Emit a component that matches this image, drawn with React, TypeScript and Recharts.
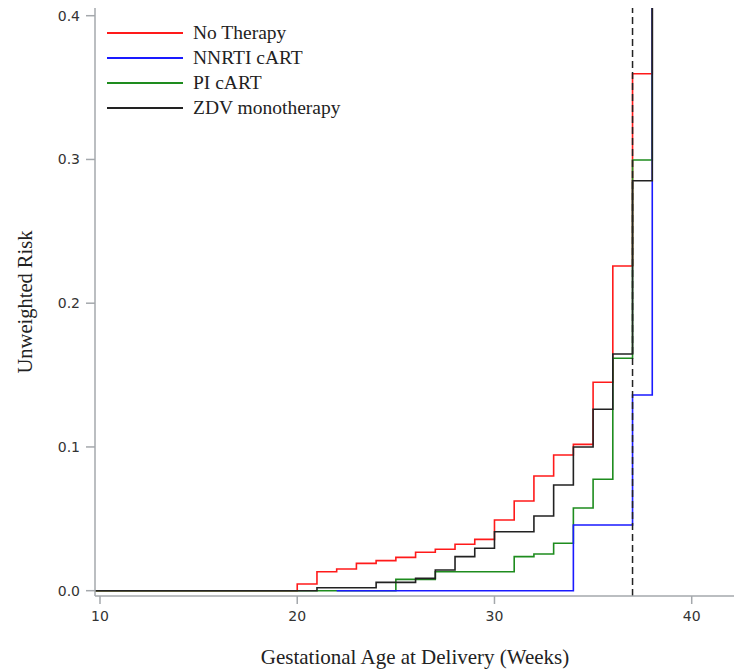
import React from 'react'
import {
  LineChart, Line, XAxis, YAxis, ReferenceLine, Label,
} from 'recharts'

// gestational week at which each step starts
const weeks = [9, 10, 11, 12, 13, 14, 15, 16, 17, 18, 19, 20, 21, 22, 23, 24, 25, 26, 27, 28, 29, 30, 31, 32, 33, 34, 35, 36, 37, 38]

const noTherapy = [0, 0, 0, 0, 0, 0, 0, 0, 0, 0, 0, 0.0047, 0.0132, 0.0151, 0.019, 0.0209, 0.0232, 0.0267, 0.0288, 0.0323, 0.0357, 0.0492, 0.0624, 0.0798, 0.0944, 0.1018, 0.145, 0.2259, 0.3596, 1]
const nnrti = [null, null, null, null, null, null, null, null, null, null, null, null, null, 0, 0, 0, 0, 0, 0, 0, 0, 0, 0, 0, 0, 0.0457, 0.0457, 0.0457, 0.1361, 1]
const piCart = [0, 0, 0, 0, 0, 0, 0, 0, 0, 0, 0, 0, 0, 0, 0, 0, 0.0079, 0.0079, 0.0132, 0.0132, 0.0132, 0.0132, 0.0237, 0.0255, 0.033, 0.0575, 0.0775, 0.1617, 0.2996, 1]
const zdv = [0, 0, 0, 0, 0, 0, 0, 0, 0, 0, 0, 0, 0.0021, 0.0021, 0.0021, 0.0058, 0.0058, 0.0086, 0.0144, 0.0237, 0.0295, 0.041, 0.041, 0.052, 0.0735, 0.1, 0.1262, 0.1647, 0.2852, 1]

const xTicks = [10, 20, 30, 40]
const yTicks = [0, 0.1, 0.2, 0.3, 0.4]
const cutoffWeek = 37

const legendItems = [
  { name: 'No Therapy', color: '#ff1a1a' },
  { name: 'NNRTI cART', color: '#1a1aff' },
  { name: 'PI cART', color: '#1e8c1e' },
  { name: 'ZDV monotherapy', color: '#222222' },
]

const data = weeks.map((w, i) => ({
  week: w,
  none: noTherapy[i],
  nnrti: nnrti[i],
  pi: piCart[i],
  zdv: zdv[i],
}))

const axisGray = '#a4a8ac'
const tickFont = { fontSize: 14, fill: '#333', fontFamily: 'DejaVu Sans' }
const titleFont = 'Liberation Serif'

export default function App() {
  return (
    <div style={{ position: 'absolute', left: 0, top: 0, width: 734, height: 670, overflow: 'hidden', background: '#fff' }}>
      <LineChart width={771} height={670} data={data} margin={{ top: 8, right: 0, bottom: 0, left: 0 }}>
        <XAxis
          dataKey="week"
          type="number"
          domain={[9.7465, 44.02]}
          ticks={xTicks}
          allowDataOverflow
          height={74}
          tick={tickFont}
          tickSize={8}
          tickMargin={7}
          stroke={axisGray}
          axisLine={{ stroke: axisGray, strokeWidth: 1.5 }}
          tickLine={{ stroke: axisGray, strokeWidth: 1.5 }}
        >
          <Label
            content={({ viewBox }: any) => (
              <text
                x={viewBox.x + 320}
                y={viewBox.y + 68}
                textAnchor="middle"
                fontFamily={titleFont}
                fontSize={21}
                fill="#222"
              >
                Gestational Age at Delivery (Weeks)
              </text>
            )}
          />
        </XAxis>
        <XAxis
          xAxisId="top"
          orientation="top"
          type="number"
          domain={[9.7465, 44.02]}
          height={0}
          tick={false}
          tickLine={false}
          axisLine={{ stroke: axisGray, strokeWidth: 1.5 }}
        />
        <YAxis
          type="number"
          domain={[-0.00369, 0.40536]}
          ticks={yTicks}
          allowDataOverflow
          width={95}
          tick={tickFont}
          tickFormatter={(v: number) => v.toFixed(1)}
          tickSize={9}
          tickMargin={6}
          axisLine={{ stroke: axisGray, strokeWidth: 1.5 }}
          tickLine={{ stroke: axisGray, strokeWidth: 1.5 }}
        >
          <Label
            content={({ viewBox }: any) => {
              const cx = 25
              const cy = viewBox.y + viewBox.height / 2
              return (
                <text
                  x={cx}
                  y={cy}
                  transform={`rotate(-90 ${cx} ${cy})`}
                  textAnchor="middle"
                  dominantBaseline="central"
                  fontFamily={titleFont}
                  fontSize={20.5}
                  fill="#222"
                >
                  Unweighted Risk
                </text>
              )
            }}
          />
        </YAxis>
        <Line type="stepAfter" dataKey="none" stroke="#ff1a1a" strokeWidth={1.6} dot={false} isAnimationActive={false} />
        <Line type="stepAfter" dataKey="pi" stroke="#1e8c1e" strokeWidth={1.6} dot={false} isAnimationActive={false} />
        <Line type="stepAfter" dataKey="nnrti" stroke="#1a1aff" strokeWidth={1.6} dot={false} isAnimationActive={false} />
        <Line type="stepAfter" dataKey="zdv" stroke="#222222" strokeWidth={1.6} dot={false} isAnimationActive={false} />
        <ReferenceLine x={cutoffWeek} stroke="#222" strokeWidth={1.5} strokeDasharray="7 4" />
      </LineChart>
      <div style={{ position: 'absolute', left: 107, top: 20 }}>
        {legendItems.map((it) => (
          <div key={it.name} style={{ display: 'flex', alignItems: 'center', height: 25 }}>
            <div style={{ width: 76, height: 2, background: it.color }} />
            <span style={{ marginLeft: 10, fontFamily: titleFont, fontSize: 19.5, color: '#222', lineHeight: '25px' }}>
              {it.name}
            </span>
          </div>
        ))}
      </div>
    </div>
  )
}
